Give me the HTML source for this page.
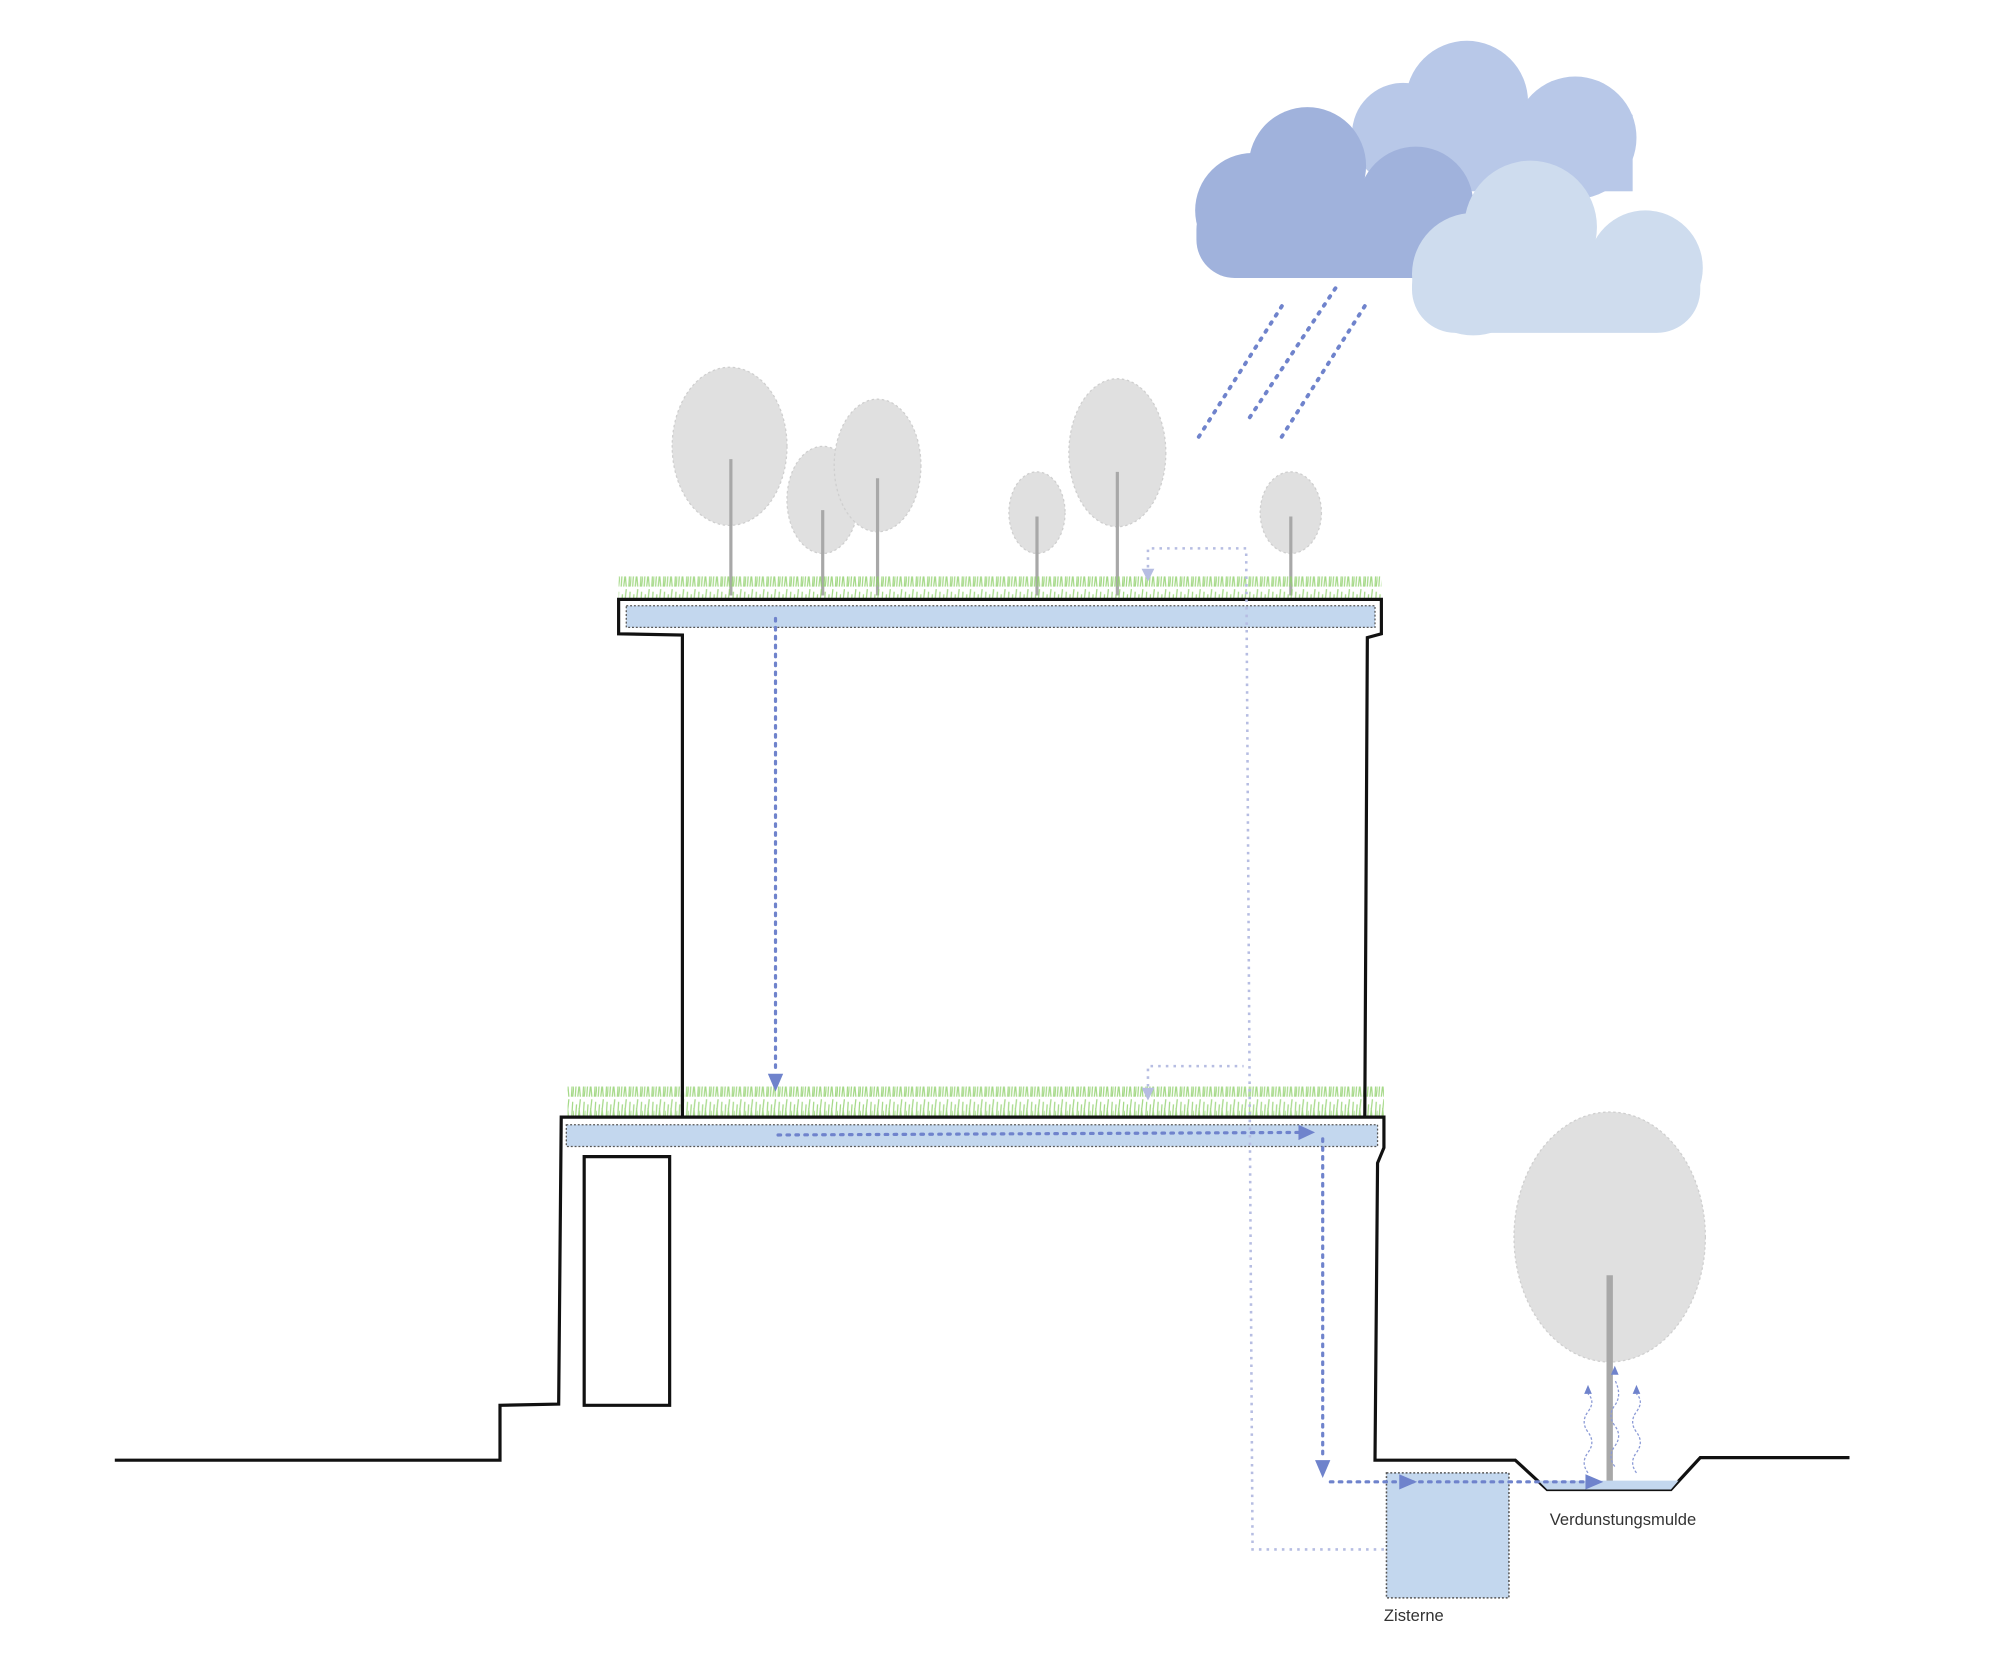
<!DOCTYPE html>
<html><head><meta charset="utf-8"><style>
html,body{margin:0;padding:0;background:#fff}
svg{display:block}
text{font-family:"Liberation Sans",sans-serif}
</style></head><body>
<svg width="2000" height="1654" viewBox="0 0 1568 1297" preserveAspectRatio="none" xmlns="http://www.w3.org/2000/svg">
<defs>
<pattern id="grass" width="9" height="20" patternUnits="userSpaceOnUse">
<path d="M1 20 L2 6 M3 20 L5 2 M5 20 L4 9 M7 20 L8 4 M8 20 L9 11" stroke="#8fd06a" stroke-width="1" opacity="0.8"/>
</pattern>
</defs>

<!-- clouds -->
<g fill="#b8c8e8">
<circle cx="1150" cy="80" r="48"/><circle cx="1100" cy="105" r="40"/><circle cx="1235" cy="108" r="48"/>
<rect x="1090" y="90" width="190" height="60"/>
</g>
<g fill="#a0b2dc">
<circle cx="982" cy="165" r="45"/><circle cx="1025" cy="130" r="46"/><circle cx="1110" cy="160" r="45"/>
<rect x="938" y="150" width="200" height="68" rx="30"/>
</g>
<g fill="#cedcee">
<circle cx="1200" cy="178" r="52"/><circle cx="1290" cy="210" r="45"/><circle cx="1155" cy="215" r="48"/>
<rect x="1107" y="190" width="226" height="71" rx="34"/>
</g>
<!-- rain -->
<g stroke="#6f83cc" stroke-width="3" stroke-dasharray="1.5 6" stroke-linecap="round">
<line x1="1005" y1="240" x2="937" y2="347"/>
<line x1="1047" y1="226" x2="978" y2="330"/>
<line x1="1070" y1="240" x2="1002" y2="347"/>
</g>

<!-- trees -->
<g fill="#e0e0e0" stroke="#cfcfcf" stroke-width="1" stroke-dasharray="2 2">
<ellipse cx="572" cy="350" rx="45" ry="62"/>
<ellipse cx="645" cy="392" rx="28" ry="42"/>
<ellipse cx="688" cy="365" rx="34" ry="52"/>
<ellipse cx="813" cy="402" rx="22" ry="32"/>
<ellipse cx="876" cy="355" rx="38" ry="58"/>
<ellipse cx="1012" cy="402" rx="24" ry="32"/>
<ellipse cx="1262" cy="970" rx="75" ry="98"/>
</g>
<g stroke="#a8a8a8" stroke-width="2.5">
<line x1="573" y1="360" x2="573" y2="467"/>
<line x1="645" y1="400" x2="645" y2="467"/>
<line x1="688" y1="375" x2="688" y2="467"/>
<line x1="813" y1="405" x2="813" y2="467"/>
<line x1="876" y1="370" x2="876" y2="467"/>
<line x1="1012" y1="405" x2="1012" y2="467"/>
<line x1="1262" y1="1000" x2="1262" y2="1168" stroke-width="5"/>
</g>

<!-- grass -->
<rect x="485" y="452" width="598" height="18" fill="url(#grass)"/>
<rect x="445" y="852" width="640" height="23" fill="url(#grass)"/>

<!-- building -->
<g fill="none" stroke="#111" stroke-width="2.5" stroke-linejoin="miter">
<path d="M90 1145 L392 1145 L392 1102 L438 1101 L440 876 L1085 876 L1085 900 L1080 912 L1078 1145 L1188 1145 L1213 1168 L1310 1168 L1333 1143 L1450 1143"/>
<path d="M535 875 L535 498 L485 497 L485 470 L1083 470 L1083 497 L1072 500 L1070 875"/>
<path d="M458 1102 L458 907 L525 907 L525 1102 Z"/>
</g>
<!-- blue bands -->
<rect x="491" y="475" width="587" height="17" fill="#c3d7ee" stroke="#555" stroke-width="1" stroke-dasharray="1.5 1.5"/>
<rect x="444" y="882" width="636" height="17" fill="#c3d7ee" stroke="#555" stroke-width="1" stroke-dasharray="1.5 1.5"/>
<!-- cistern -->
<rect x="1087" y="1155" width="96" height="98" fill="#c3d7ee" stroke="#555" stroke-width="1.2" stroke-dasharray="1.5 1.5"/>
<!-- swale water -->
<polygon points="1206,1161 1316,1161 1310,1168 1213,1168" fill="#c3d7ee"/>

<!-- light dotted path -->
<g fill="none" stroke="#b6bde2" stroke-width="2" stroke-dasharray="2 4">
<path d="M900 445 L900 430 L977 430 L982 1215 L1085 1215"/>
<path d="M900 852 L900 836 L975 836"/>
</g>
<g fill="#b6bde2">
<polygon points="895,446 905,446 900,456"/>
<polygon points="895,853 905,853 900,863"/>
</g>

<!-- dark dotted paths -->
<g fill="none" stroke="#6f83cc" stroke-width="2.5" stroke-dasharray="2 5" stroke-linecap="round">
<line x1="608" y1="485" x2="608" y2="842"/>
<line x1="610" y1="890" x2="1020" y2="888"/>
<line x1="1037" y1="893" x2="1037" y2="1145"/>
<line x1="1043" y1="1162" x2="1245" y2="1162"/>
</g>
<g fill="#6f83cc">
<polygon points="602,842 614,842 608,856"/>
<polygon points="1018,882 1018,894 1031,888"/>
<polygon points="1031,1145 1043,1145 1037,1159"/>
<polygon points="1097,1156 1097,1168 1111,1162"/>
<polygon points="1243,1156 1243,1168 1257,1162"/>
</g>
<!-- evaporation -->
<g fill="none" stroke="#8b9ad6" stroke-width="1" stroke-dasharray="2 1.5">
<path d="M1245 1155 q-6 -8 0 -16 q6 -8 0 -16 q-6 -8 0 -16 q6 -8 0 -14"/>
<path d="M1283 1155 q-6 -8 0 -16 q6 -8 0 -16 q-6 -8 0 -16 q6 -8 0 -14"/>
<path d="M1266 1150 q-6 -8 0 -16 q6 -8 0 -16 q-6 -8 0 -16 q6 -8 0 -20"/>
</g>
<g fill="#6f83cc"><polygon points="1242,1093 1248,1093 1245,1086"/><polygon points="1280,1093 1286,1093 1283,1086"/><polygon points="1263,1078 1269,1078 1266,1071"/></g>

<text x="1215" y="1196" font-size="13" fill="#333">Verdunstungsmulde</text>
<text x="1085" y="1271" font-size="13" fill="#333">Zisterne</text>
</svg>
</body></html>
